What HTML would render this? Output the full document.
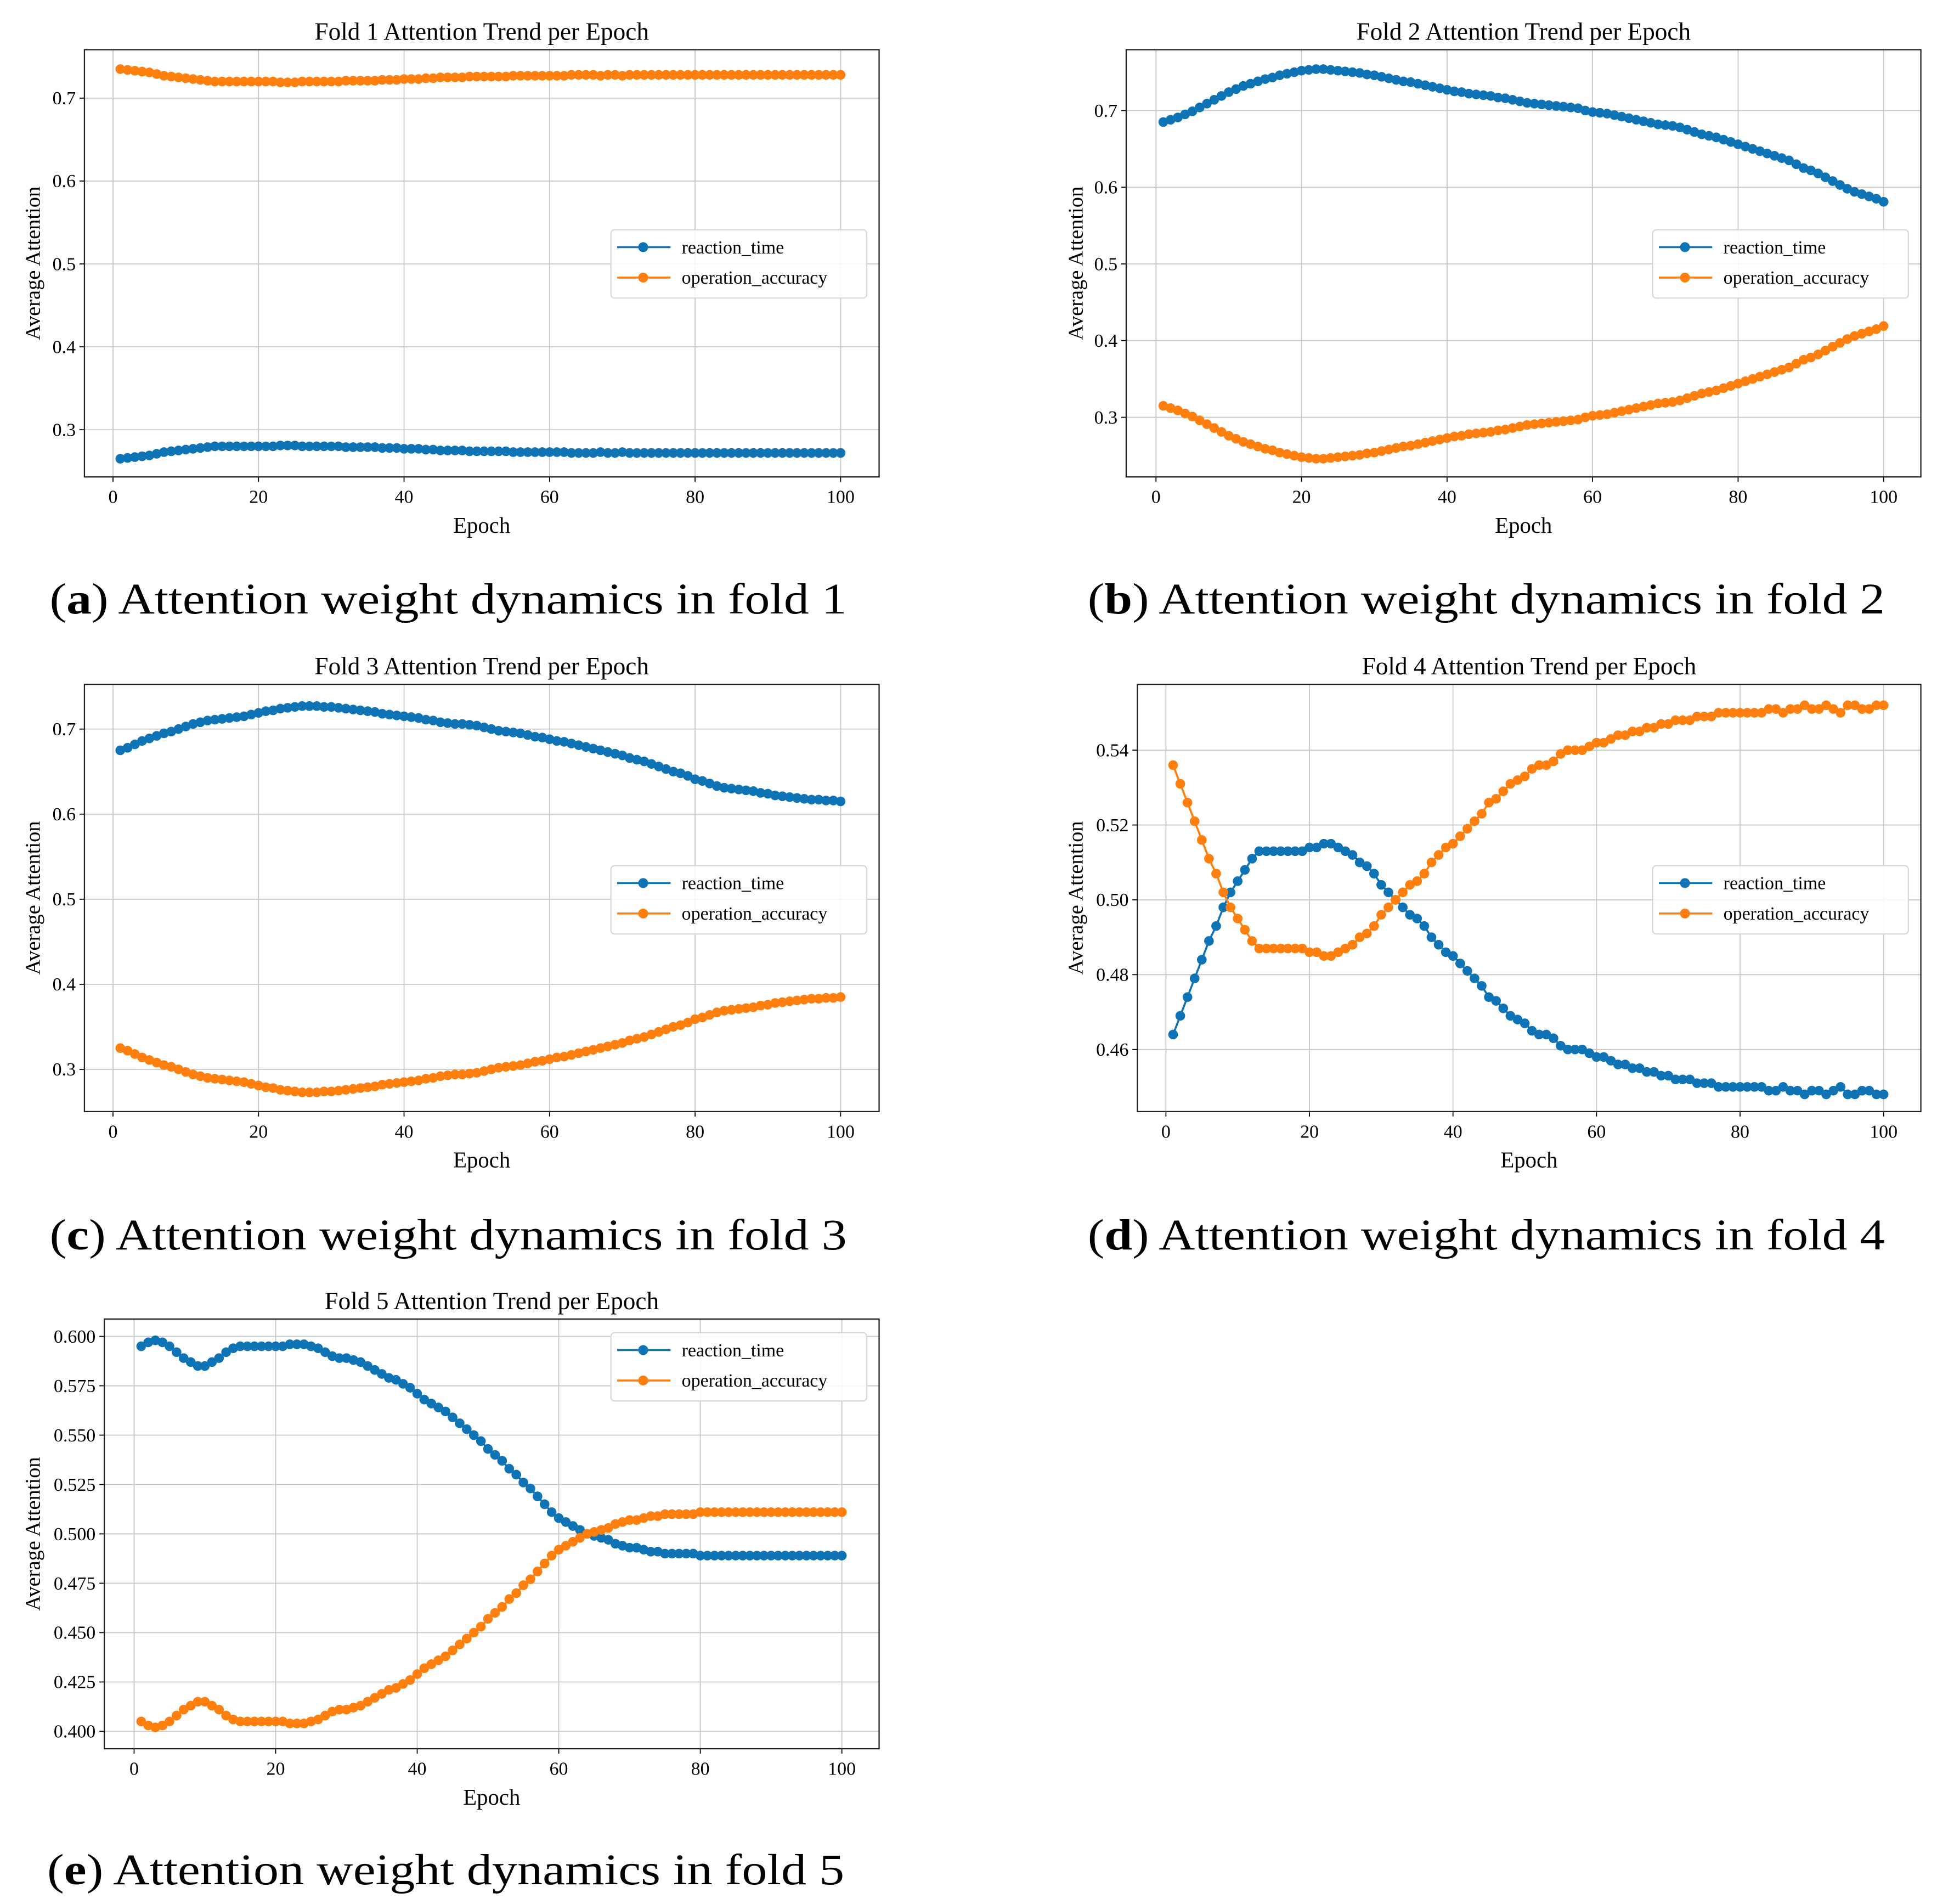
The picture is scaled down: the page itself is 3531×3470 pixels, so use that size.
<!DOCTYPE html>
<html><head><meta charset="utf-8"><style>
html,body{margin:0;padding:0;background:#fff;}
svg{display:block;}
text{font-family:"Liberation Serif",serif;fill:#000;}
</style></head><body>
<svg id="fig" width="3531" height="3470" viewBox="0 0 1560 1533" preserveAspectRatio="none" xmlns="http://www.w3.org/2000/svg"></svg>
<script>
const epochs = Array.from({length:100},(_,i)=>i+1);
const xTicks = [0,20,40,60,80,100];
const seriesNames = ['reaction_time','operation_accuracy'];

const f1rt = [.265,.266,.267,.268,.269,.271,.273,.274,.275,.276,.277,.278,.279,.280,.280,.280,.280,.280,.280,.280,.280,.280,.281,.281,.281,.280,.280,.280,.280,.280,.280,.279,.279,.279,.279,.279,.278,.278,.278,.277,.277,.277,.276,.276,.275,.275,.275,.275,.274,.274,.274,.274,.274,.274,.273,.273,.273,.273,.273,.273,.273,.273,.272,.272,.272,.272,.273,.272,.272,.273,.272,.272,.272,.272,.272,.272,.272,.272,.272,.272,.272,.272,.272,.272,.272,.272,.272,.272,.272,.272,.272,.272,.272,.272,.272,.272,.272,.272,.272,.272];
const f1op = [.735,.734,.733,.732,.731,.729,.727,.726,.725,.724,.723,.722,.721,.720,.720,.720,.720,.720,.720,.720,.720,.720,.719,.719,.719,.720,.720,.720,.720,.720,.720,.721,.721,.721,.721,.721,.722,.722,.722,.723,.723,.723,.724,.724,.725,.725,.725,.725,.726,.726,.726,.726,.726,.726,.727,.727,.727,.727,.727,.727,.727,.727,.728,.728,.728,.728,.727,.728,.728,.727,.728,.728,.728,.728,.728,.728,.728,.728,.728,.728,.728,.728,.728,.728,.728,.728,.728,.728,.728,.728,.728,.728,.728,.728,.728,.728,.728,.728,.728,.728];
const f2rt = [.685,.688,.691,.695,.699,.704,.709,.714,.719,.724,.728,.732,.735,.738,.741,.743,.746,.748,.750,.752,.753,.754,.754,.753,.752,.751,.750,.749,.747,.746,.744,.742,.740,.738,.737,.735,.733,.731,.729,.727,.725,.724,.722,.721,.720,.719,.717,.716,.714,.712,.710,.709,.708,.707,.706,.705,.704,.703,.700,.698,.697,.696,.694,.692,.690,.688,.686,.684,.682,.681,.680,.678,.675,.672,.669,.667,.665,.662,.659,.656,.653,.650,.647,.644,.641,.638,.635,.630,.625,.622,.618,.613,.608,.603,.598,.594,.591,.588,.585,.581];
const f2op = [.315,.312,.309,.305,.301,.296,.291,.286,.281,.276,.272,.268,.265,.262,.259,.257,.254,.252,.250,.248,.247,.246,.246,.247,.248,.249,.250,.251,.253,.254,.256,.258,.260,.262,.263,.265,.267,.269,.271,.273,.275,.276,.278,.279,.280,.281,.283,.284,.286,.288,.290,.291,.292,.293,.294,.295,.296,.297,.300,.302,.303,.304,.306,.308,.310,.312,.314,.316,.318,.319,.320,.322,.325,.328,.331,.333,.335,.338,.341,.344,.347,.350,.353,.356,.359,.362,.365,.370,.375,.378,.382,.387,.392,.397,.402,.406,.409,.412,.415,.419];
const f3rt = [.675,.678,.682,.686,.689,.692,.695,.697,.700,.703,.706,.708,.710,.711,.712,.713,.714,.715,.717,.719,.721,.722,.724,.725,.726,.727,.727,.727,.726,.726,.725,.724,.723,.722,.721,.720,.718,.717,.716,.715,.714,.713,.711,.710,.708,.707,.706,.706,.705,.704,.702,.700,.698,.697,.696,.695,.693,.691,.690,.688,.686,.685,.683,.681,.679,.677,.675,.673,.671,.669,.666,.664,.662,.659,.656,.653,.650,.648,.645,.641,.639,.636,.633,.631,.630,.629,.628,.627,.625,.624,.622,.621,.620,.619,.618,.617,.617,.616,.616,.615];
const f3op = [.325,.322,.318,.314,.311,.308,.305,.303,.300,.297,.294,.292,.290,.289,.288,.287,.286,.285,.283,.281,.279,.278,.276,.275,.274,.273,.273,.273,.274,.274,.275,.276,.277,.278,.279,.280,.282,.283,.284,.285,.286,.287,.289,.290,.292,.293,.294,.294,.295,.296,.298,.300,.302,.303,.304,.305,.307,.309,.310,.312,.314,.315,.317,.319,.321,.323,.325,.327,.329,.331,.334,.336,.338,.341,.344,.347,.350,.352,.355,.359,.361,.364,.367,.369,.370,.371,.372,.373,.375,.376,.378,.379,.380,.381,.382,.383,.383,.384,.384,.385];
const f4rt = [.464,.469,.474,.479,.484,.489,.493,.498,.502,.505,.508,.511,.513,.513,.513,.513,.513,.513,.513,.514,.514,.515,.515,.514,.513,.512,.510,.509,.507,.504,.502,.500,.498,.496,.495,.493,.490,.488,.486,.485,.483,.481,.479,.477,.474,.473,.471,.469,.468,.467,.465,.464,.464,.463,.461,.460,.460,.460,.459,.458,.458,.457,.456,.456,.455,.455,.454,.454,.453,.453,.452,.452,.452,.451,.451,.451,.450,.450,.450,.450,.450,.450,.450,.449,.449,.450,.449,.449,.448,.449,.449,.448,.449,.450,.448,.448,.449,.449,.448,.448];
const f4op = [.536,.531,.526,.521,.516,.511,.507,.502,.498,.495,.492,.489,.487,.487,.487,.487,.487,.487,.487,.486,.486,.485,.485,.486,.487,.488,.490,.491,.493,.496,.498,.500,.502,.504,.505,.507,.510,.512,.514,.515,.517,.519,.521,.523,.526,.527,.529,.531,.532,.533,.535,.536,.536,.537,.539,.540,.540,.540,.541,.542,.542,.543,.544,.544,.545,.545,.546,.546,.547,.547,.548,.548,.548,.549,.549,.549,.550,.550,.550,.550,.550,.550,.550,.551,.551,.550,.551,.551,.552,.551,.551,.552,.551,.550,.552,.552,.551,.551,.552,.552];
const f5rt = [.595,.597,.598,.597,.595,.592,.589,.587,.585,.585,.587,.589,.592,.594,.595,.595,.595,.595,.595,.595,.595,.596,.596,.596,.595,.594,.592,.590,.589,.589,.588,.587,.585,.583,.581,.579,.578,.576,.574,.571,.568,.566,.564,.562,.559,.556,.553,.550,.547,.543,.540,.537,.533,.530,.526,.523,.519,.515,.511,.508,.506,.504,.502,.500,.499,.498,.497,.495,.494,.493,.493,.492,.491,.491,.490,.490,.490,.490,.490,.489,.489,.489,.489,.489,.489,.489,.489,.489,.489,.489,.489,.489,.489,.489,.489,.489,.489,.489,.489,.489];
const f5op = [.405,.403,.402,.403,.405,.408,.411,.413,.415,.415,.413,.411,.408,.406,.405,.405,.405,.405,.405,.405,.405,.404,.404,.404,.405,.406,.408,.410,.411,.411,.412,.413,.415,.417,.419,.421,.422,.424,.426,.429,.432,.434,.436,.438,.441,.444,.447,.450,.453,.457,.460,.463,.467,.470,.474,.477,.481,.485,.489,.492,.494,.496,.498,.500,.501,.502,.503,.505,.506,.507,.507,.508,.509,.509,.510,.510,.510,.510,.510,.511,.511,.511,.511,.511,.511,.511,.511,.511,.511,.511,.511,.511,.511,.511,.511,.511,.511,.511,.511,.511];

const yTicks1 = [0.3,0.4,0.5,0.6,0.7];
const yTicks4 = [0.46,0.48,0.50,0.52,0.54];
const yTicks5 = [0.400,0.425,0.450,0.475,0.500,0.525,0.550,0.575,0.600];
const yLabels1 = ['0.3','0.4','0.5','0.6','0.7'];
const yLabels4 = ['0.46','0.48','0.50','0.52','0.54'];
const yLabels5 = ['0.400','0.425','0.450','0.475','0.500','0.525','0.550','0.575','0.600'];

const panels = [
 {id:1,L:68,R:708,T:40,B:384,x0:91,x100:677,vA:0.3,pA:346,vB:0.7,pB:79,ticks:yTicks1,labels:yLabels1,rt:f1rt,op:f1op,leg:[492,185],ylx:20,cap:'a',cx:40,cy:494},
 {id:2,L:907,R:1547,T:40,B:384,x0:931,x100:1517,vA:0.3,pA:336,vB:0.7,pB:89,ticks:yTicks1,labels:yLabels1,rt:f2rt,op:f2op,leg:[1331,185],ylx:860,cap:'b',cx:876,cy:494},
 {id:3,L:68,R:708,T:551,B:895,x0:91,x100:677,vA:0.3,pA:861,vB:0.7,pB:587,ticks:yTicks1,labels:yLabels1,rt:f3rt,op:f3op,leg:[492,697],ylx:20,cap:'c',cx:40,cy:1006},
 {id:4,L:916,R:1547,T:551,B:895,x0:939,x100:1517,vA:0.46,pA:845,vB:0.54,pB:604,ticks:yTicks4,labels:yLabels4,rt:f4rt,op:f4op,leg:[1331,697],ylx:860,cap:'d',cx:876,cy:1006},
 {id:5,L:84,R:708,T:1062,B:1408,x0:108,x100:678,vA:0.4,pA:1394,vB:0.6,pB:1076,ticks:yTicks5,labels:yLabels5,rt:f5rt,op:f5op,leg:[492,1073],ylx:20,cap:'e',cx:38,cy:1517}
];
const BLUE='#0f74b6', ORANGE='#ff7f0e';
const svg=document.getElementById('fig');
const NS='http://www.w3.org/2000/svg';
function mk(tag,attrs,parent){const e=document.createElementNS(NS,tag);for(const k in attrs)e.setAttribute(k,attrs[k]);(parent||svg).appendChild(e);return e;}

panels.forEach(p=>{
  const g=mk('g',{});
  
  
  const xs=v=>p.x0+(v-0)*(p.x100-p.x0)/100;
  const ys=v=>p.pA+(v-p.vA)*(p.pB-p.pA)/(p.vB-p.vA);
  // grid
  xTicks.forEach(t=>{
    const l=mk('line',{x1:xs(t),x2:xs(t),y1:p.T,y2:p.B,stroke:'#c8c8c8','stroke-width':0.8},g);
    
    
    const tx=mk('text',{x:xs(t),y:p.B+21,'font-size':15,'text-anchor':'middle'},g);
    tx.textContent=String(t);
    
    
    mk('line',{x1:xs(t),x2:xs(t),y1:p.B,y2:p.B+4,stroke:'#000','stroke-width':0.8},g);
  });
  p.ticks.forEach((t,i)=>{
    const l=mk('line',{x1:p.L,x2:p.R,y1:ys(t),y2:ys(t),stroke:'#c8c8c8','stroke-width':0.8},g);
    
    
    const tx=mk('text',{x:p.L-7,y:ys(t)+5,'font-size':15,'text-anchor':'end'},g);
    tx.textContent=p.labels[i];
    
    
    mk('line',{x1:p.L-4,x2:p.L,y1:ys(t),y2:ys(t),stroke:'#000','stroke-width':0.8},g);
  });
  const box=mk('rect',{x:p.L,y:p.T,width:p.R-p.L,height:p.B-p.T,fill:'none',stroke:'#222','stroke-width':1},g);
  
  
  // series
  [[p.rt,BLUE,'reaction-time-series'],[p.op,ORANGE,'operation-accuracy-series']].forEach(([arr,col,nm])=>{
    const sg=mk('g',{},g);
    
    
    const pts=arr.map((v,i)=>xs(epochs[i]).toFixed(2)+','+ys(v).toFixed(2)).join(' ');
    mk('polyline',{points:pts,fill:'none',stroke:col,'stroke-width':1.6},sg);
    arr.forEach((v,i)=>{
      const c=mk('circle',{cx:xs(epochs[i]),cy:ys(v),r:3.9,fill:col},sg);
      
      
    });
  });
  // title
  const tt=mk('text',{x:(p.L+p.R)/2,y:p.T-8,'font-size':20,'text-anchor':'middle'},g);
  tt.textContent='Fold '+p.id+' Attention Trend per Epoch';
  
  
  const xl=mk('text',{x:(p.L+p.R)/2,y:p.B+45,'font-size':18,'text-anchor':'middle'},g);
  xl.textContent='Epoch';
  
  
  const cyL=(p.T+p.B)/2;
  const yl=mk('text',{x:p.ylx,y:cyL,'font-size':17,'text-anchor':'middle',transform:'rotate(-90 '+(p.ylx+6)+' '+cyL+')'},g);
  yl.setAttribute('x',p.ylx+6);
  yl.setAttribute('y',cyL+6);
  yl.textContent='Average Attention';
  
  
  // legend
  const lg=mk('g',{},g);
  
  
  const [lx,ly]=p.leg;
  mk('rect',{x:lx,y:ly,width:206,height:55,rx:3,fill:'#fff','fill-opacity':0.85,stroke:'#d8d8d8','stroke-width':1},lg);
  seriesNames.forEach((n,i)=>{
    const col=i?ORANGE:BLUE;
    const yy=ly+14+i*24.5;
    const e=mk('g',{},lg);
    
    
    mk('line',{x1:lx+5,x2:lx+48,y1:yy,y2:yy,stroke:col,'stroke-width':1.6},e);
    mk('circle',{cx:lx+26,cy:yy,r:4,fill:col},e);
    const t=mk('text',{x:lx+57,y:yy+5,'font-size':15},e);
    t.textContent=n;
  });
  // caption
  const cap=mk('text',{x:p.cx,y:p.cy,'font-size':35,textLength:642,lengthAdjust:'spacingAndGlyphs'},svg);
  
  
  cap.innerHTML='(<tspan font-weight="bold">'+p.cap+'</tspan>) Attention weight dynamics in fold '+p.id;
});
</script>
</body></html>
